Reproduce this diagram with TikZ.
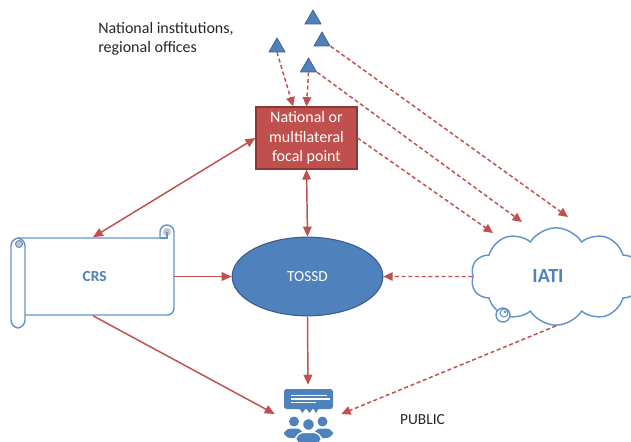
\documentclass[tikz,border=0pt]{standalone}
\usepackage{fontspec}
\setmainfont{Carlito}
\usepackage{xcolor}
\usetikzlibrary{arrows.meta,shapes.geometric,shapes.symbols,positioning}

\definecolor{focalred}{HTML}{C0504D}
\definecolor{focaledge}{HTML}{8C3836}
\definecolor{tossdblue}{HTML}{4F81BD}
\definecolor{tossdedge}{HTML}{385D8A}
\definecolor{outlineblue}{HTML}{6594CD}
\definecolor{curlgray}{HTML}{C4C4C4}
\definecolor{textgray}{HTML}{262626}

\tikzset{
    link/.style={draw=focalred, line width=1.1pt, -{Triangle[length=7.5pt,width=6.5pt]}},
    twoway/.style={link, {Triangle[length=7.5pt,width=6.5pt]}-{Triangle[length=7.5pt,width=6.5pt]}},
    feed/.style={draw=focalred, line width=1.1pt, dash pattern=on 3pt off 2pt, -{Triangle[length=7pt,width=6.5pt]}},
    office/.style={regular polygon, regular polygon sides=3, fill=tossdblue, draw=tossdedge,
        line width=0.5pt, minimum size=14pt, inner sep=0pt},
    scrollline/.style={draw=outlineblue, line width=1.1pt},
}

\begin{document}
\begin{tikzpicture}[x=0.75pt,y=-0.75pt]
    \useasboundingbox (0,0) rectangle (631,442);

    % Offices and label
    \node[office] (top) at (313,19.3) {};
    \node[office] (left) at (277,47.3) {};
    \node[office] (right) at (322,41.3) {};
    \node[office] (mid) at (308.5,67.3) {};
    \node[anchor=north west, inner sep=0pt, align=left, text=textgray,
        font=\fontsize{12}{14.4}\selectfont] (offices) at (98,22)
        {National institutions,\\regional offices};

    % Focal point box
    \node[fill=focalred, draw=focaledge, line width=0.8pt, text=white, align=center,
        minimum width=75.75pt, minimum height=46.5pt, inner sep=0pt,
        font=\fontsize{12}{14.6}\selectfont] (focal) at (306.5,138)
        {National or\\multilateral\\focal point};

    % TOSSD
    \node[ellipse, fill=tossdblue, draw=tossdedge, line width=0.8pt, text=white,
        minimum width=113pt, minimum height=59pt,
        font=\fontsize{11.5}{13}\selectfont] (tossd) at (307.5,276.5) {TOSSD};

    % CRS scroll
    \draw[scrollline, fill=white] (18,238) -- (160,238) -- (160,232)
        arc[start angle=180, end angle=360, radius=7] -- (174,232)
        [rounded corners=5] -- (174,315) -- (25,315);
    \fill[curlgray] (167,232) circle[radius=4];
    \draw[scrollline, line width=0.8pt] (160,238) -- (167,238) -- (167,232);
    \draw[scrollline, fill=white, rounded corners=6] (11,238) rectangle (25,328);
    \filldraw[fill=curlgray, draw=outlineblue, line width=0.8pt] (19,244) circle[radius=3.5];
    \node[minimum width=121.5pt, minimum height=58.5pt, inner sep=0pt, text=tossdblue,
        font=\fontsize{11.5}{13}\bfseries] (crs) at (93,276.5) {\hspace*{2.5pt}CRS};

    % IATI cloud
    \node[cloud, cloud puffs=10, cloud puff arc=115, aspect=1.7, draw=outlineblue,
        line width=1.1pt, minimum width=127.5pt, minimum height=73pt, inner sep=0pt,
        text=tossdblue, font=\fontsize{15}{17}\bfseries] (iati) at (556,276.5)
        {\hspace*{-12pt}IATI};
    \draw[scrollline, fill=white] (503,315) circle[radius=7];
    \draw[scrollline, line width=0.8pt] (504,313) circle[radius=4];
    \fill[outlineblue] (505,312) circle[radius=1.5];

    % Public icon
    \node[minimum width=49.5pt, minimum height=43.5pt, inner sep=0pt] (public) at (308,414) {};
    \fill[tossdblue, rounded corners=2] (284,389) rectangle (333,409);
    \fill[tossdblue] (299,408) -- (302.5,413) -- (306,408) -- (309.5,413) -- (313,408)
        -- (316,413) -- (319,408) -- cycle;
    \draw[white, line width=0.8pt] (291,395.5) -- (327,395.5);
    \draw[white, line width=0.8pt] (291,399) -- (330,399);
    \draw[white, line width=0.8pt] (291,402.5) -- (316,402.5);
    \fill[tossdblue] (294,421.5) circle[radius=5];
    \fill[tossdblue] (322.5,421.5) circle[radius=5];
    \fill[tossdblue, rounded corners=5] (284,438) rectangle (303,428.5);
    \fill[tossdblue, rounded corners=5] (314,438) rectangle (333,428.5);
    \filldraw[fill=tossdblue, draw=white, line width=1pt, rounded corners=6] (295.5,445) rectangle (321.5,432.5);
    \filldraw[fill=tossdblue, draw=white, line width=1pt] (308.5,424.5) circle[radius=6];
    \node[text=textgray, font=\fontsize{11.5}{13}\selectfont] (publictext) at (422.5,420) {PUBLIC};

    % Solid links
    \draw[twoway] (crs.north) -- (focal.west);
    \draw[twoway] (focal.south) -- (tossd.north);
    \draw[link] (crs.east) -- (tossd.west);
    \draw[link] (crs.south) -- (public.west);
    \draw[link] (tossd.south) -- (public.north);

    % Dashed feeds
    \coordinate (iatiA) at (493,233);
    \coordinate (iatiB) at (522,222);
    \coordinate (iatiC) at (568,217);
    \draw[feed] (left.south) -- (focal.113);
    \draw[feed] (mid.south) -- (focal.north);
    \draw[feed] (focal.east) -- (iatiA);
    \draw[feed] (mid.corner 3) -- (iatiB);
    \draw[feed] (right.corner 3) -- (iatiC);
    \draw[feed] (iati.west) -- (tossd.east);
    \draw[feed] (iati.south) -- (public.east);
\end{tikzpicture}
\end{document}
